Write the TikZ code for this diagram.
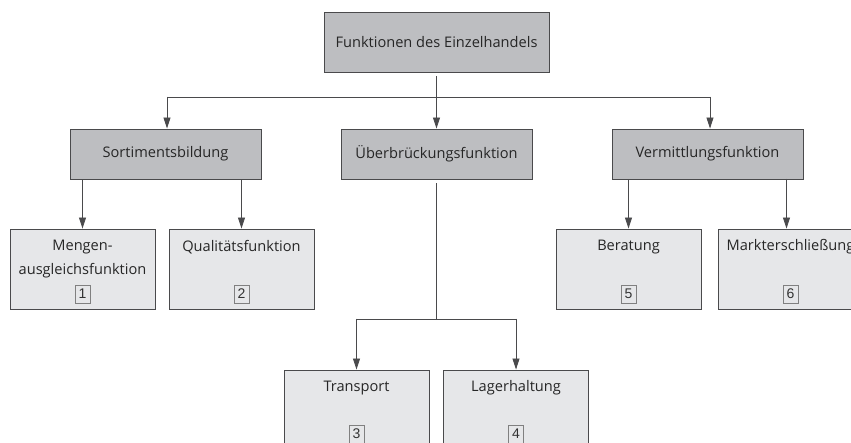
\documentclass[tikz,border=0pt]{standalone}
\usepackage{fontspec}
\setmainfont{Open Sans}
\newfontfamily\numfont{Liberation Sans}
\usetikzlibrary{arrows.meta}
\definecolor{boxdark}{HTML}{BDBEC1}
\definecolor{boxlight}{HTML}{E6E7E9}
\definecolor{edge}{HTML}{4A4A4C}
\begin{document}
\begin{tikzpicture}[x=1pt,y=-1pt,
  font=\fontsize{14.6}{17}\selectfont,
  line width=0.8pt,
  upper/.style={draw=edge, fill=boxdark, line width=0.9pt, minimum width=191pt, minimum height=50pt, inner sep=0pt},
  lower/.style={draw=edge, fill=boxlight, line width=0.9pt, minimum width=145pt, minimum height=80pt, inner sep=0pt},
  lbl/.style={inner sep=0pt, text=black!85},
  num/.style={draw=black!50, line width=0.5pt, inner sep=0pt, minimum width=15pt, minimum height=18pt, font=\numfont\fontsize{14}{16}\selectfont, text=black!80},
  conn/.style={draw=edge, line width=0.8pt},
  arr/.style={conn, -{Triangle[width=7pt,length=11pt]}, fill=edge},
]
\clip (0,0) rectangle (851,443);
\fill[white] (0,0) rectangle (851,443);

% top
\node[upper, minimum width=225pt, minimum height=60pt] (top) at (436.5,42) {};
\node[lbl] (topt) at (top.center) {Funktionen des Einzelhandels};

% level 2
\node[upper] (sort) at (165.5,154) {};
\node[lbl] (sortt) at (sort.center) {Sortimentsbildung};
\node[upper] (ueb) at (436.5,154) {};
\node[lbl] (uebt) at (ueb.center) {Überbrückungsfunktion};
\node[upper] (verm) at (707.5,154) {};
\node[lbl] (vermt) at (verm.center) {Vermittlungsfunktion};

% level 3
\node[lower] (meng) at (82.5,269) {};
\node[lbl] (mengt1) at (82.5,247) {Mengen-};
\node[lbl] (mengt2) at (82.5,271) {ausgleichsfunktion};
\node[num] (n1) at (82.5,294) {1};

\node[lower] (qual) at (241.5,269) {};
\node[lbl] (qualt) at (241.5,247) {Qualitätsfunktion};
\node[num] (n2) at (241.5,294) {2};

\node[lower] (bera) at (628.5,269) {};
\node[lbl] (berat) at (628.5,247) {Beratung};
\node[num] (n5) at (628.5,294) {5};

\node[lower] (mark) at (790.5,269) {};
\node[lbl] (markt) at (790.5,247) {Markterschließung};
\node[num] (n6) at (790.5,294) {6};

% bottom
\node[lower] (trans) at (356.5,410) {};
\node[lbl] (transt) at (356.5,388) {Transport};
\node[num] (n3) at (356.5,434) {3};

\node[lower] (lager) at (516,410) {};
\node[lbl] (lagert) at (516,388) {Lagerhaltung};
\node[num] (n4) at (516,434) {4};

% connectors
\coordinate (h) at (436.5,97);
\coordinate (hl) at (167,97);
\coordinate (hr) at (710,97);
\draw[conn, shorten <=4pt] (top.south) -- (h);
\draw[conn] (hl) -- (hr);
\draw[arr] (hl) -- (hl |- sort.north);
\draw[arr] (h) -- (ueb.north);
\draw[arr] (hr) -- (hr |- verm.north);

\draw[arr] (meng.north |- sort.south) -- (meng.north);
\draw[arr] (qual.north |- sort.south) -- (qual.north);
\draw[arr] (bera.north |- verm.south) -- (bera.north);
\coordinate (mk) at (786.5,179);
\draw[arr] (mk) -- (mk |- mark.north);

\coordinate (v) at (436.5,319);
\draw[conn, shorten <=4pt] (ueb.south) -- (v);
\draw[conn] (trans.north |- v) -- (lager.north |- v);
\draw[arr] (trans.north |- v) -- (trans.north);
\draw[arr] (lager.north |- v) -- (lager.north);
\end{tikzpicture}
\end{document}
